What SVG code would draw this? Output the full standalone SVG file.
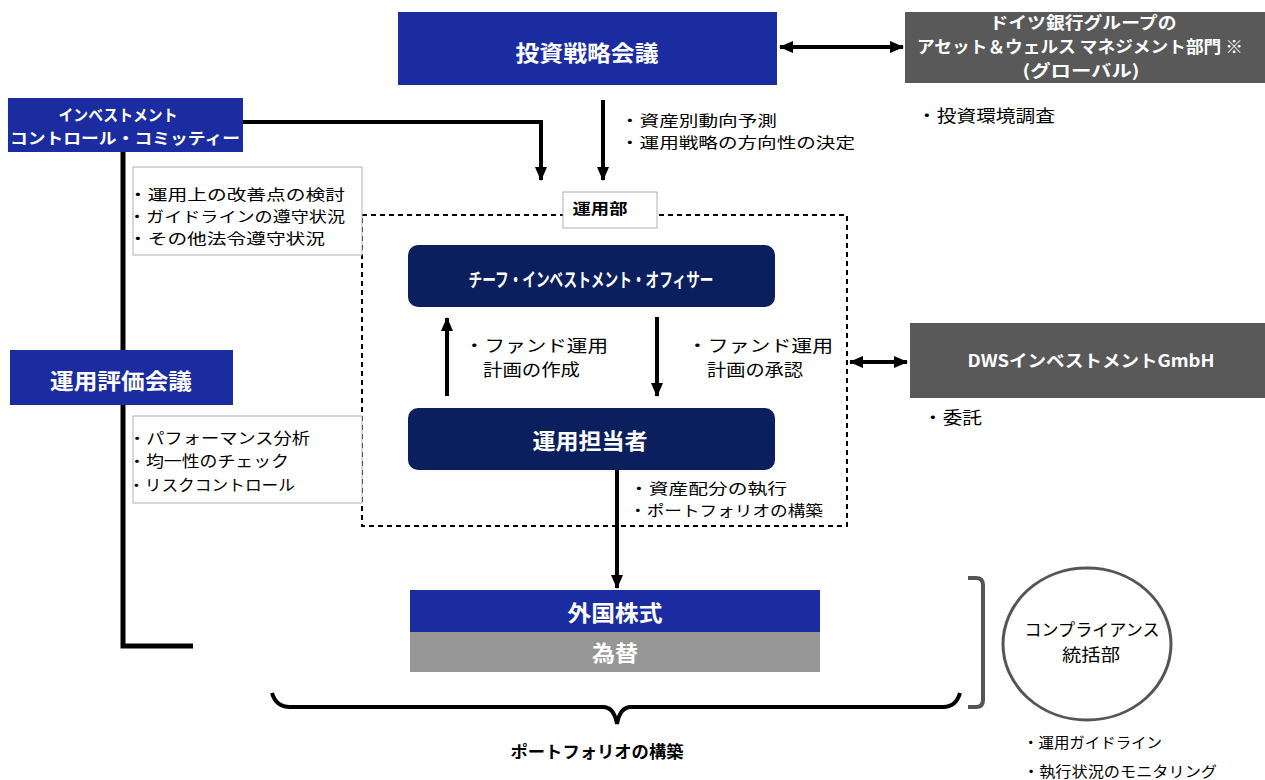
<svg xmlns="http://www.w3.org/2000/svg" width="1265" height="780" viewBox="0 0 1265 780">
<style>
text{font-family:"Noto Sans CJK JP","Noto Sans",sans-serif;}
.w{fill:#fff;font-weight:bold;text-anchor:middle;}
.k{fill:#000;}
.kc{fill:#000;text-anchor:middle;}
.blue{fill:#1a2ca0;}
.navy{fill:#0b1f5e;}
.gray{fill:#595959;}
.lg{fill:#969696;}
.note{fill:#fff;stroke:#b0b0b0;stroke-width:1;}
.ln{fill:none;stroke:#000;stroke-width:4;}
.ln5{fill:none;stroke:#000;stroke-width:5;}
</style>
<defs>
<marker id="ah" viewBox="0 0 14 14" markerWidth="14" markerHeight="14" refX="13" refY="7" orient="auto-start-reverse" markerUnits="userSpaceOnUse">
<path d="M0,1 L14,7 L0,13 z" fill="#000"/>
</marker>
</defs>

<g id="connectors">
<path class="ln" d="M243,122 H541 V180" marker-end="url(#ah)"/>
<path class="ln5" d="M123,152 V646 H193"/>
<path class="ln" d="M603,100 V180" marker-end="url(#ah)"/>
<path class="ln" d="M780,47 H903" marker-start="url(#ah)" marker-end="url(#ah)"/>
<path class="ln" d="M850,362 H907" marker-start="url(#ah)" marker-end="url(#ah)"/>
<path class="ln" d="M447,396 V318" marker-end="url(#ah)"/>
<path class="ln" d="M657,317 V396" marker-end="url(#ah)"/>
<path class="ln" d="M617,470 V588" marker-end="url(#ah)"/>
<path class="ln" d="M272,693 Q276,707 290,707 H603 Q614,707 617,724 Q620,707 631,707 H943 Q956,707 960,693"/>
<path fill="none" stroke="#555" stroke-width="4" d="M968,578 H976 Q983,578 983,585 V700 Q983,707 976,707 H968"/>
</g>

<g id="container-unyoubu">
<rect x="362" y="215" width="485" height="311" fill="none" stroke="#000" stroke-width="2" stroke-dasharray="5,4"/>
<rect x="563" y="192" width="94" height="36" fill="#fff" stroke="#b0b0b0" stroke-width="1"/>
<text x="600" y="214" font-size="15" font-weight="bold" text-anchor="middle" textLength="55" lengthAdjust="spacingAndGlyphs">運用部</text>
</g>

<g id="node-toushi">
<rect class="blue" x="398" y="12" width="379" height="73"/>
<text class="w" x="587" y="61" font-size="22" textLength="143" lengthAdjust="spacingAndGlyphs">投資戦略会議</text>
</g>

<g id="node-deutsche">
<rect class="gray" x="905" y="12" width="360" height="71"/>
<text class="w" x="1083" y="29" font-size="16.5" textLength="187" lengthAdjust="spacingAndGlyphs">ドイツ銀行グループの</text>
<text class="w" x="1080" y="53" font-size="16.5" textLength="326" lengthAdjust="spacingAndGlyphs">アセット＆ウェルス マネジメント部門 ※</text>
<text class="w" x="1081" y="77" font-size="16.5" textLength="117" lengthAdjust="spacingAndGlyphs">(グローバル)</text>
</g>
<g id="label-deutsche">
<text class="k" x="917" y="122" font-size="17" textLength="138" lengthAdjust="spacingAndGlyphs">・投資環境調査</text>
</g>

<g id="label-toushi">
<text class="k" x="620" y="126" font-size="15" textLength="157" lengthAdjust="spacingAndGlyphs">・資産別動向予測</text>
<text class="k" x="620" y="148" font-size="15" textLength="235" lengthAdjust="spacingAndGlyphs">・運用戦略の方向性の決定</text>
</g>

<g id="node-committee">
<rect class="blue" x="8" y="98" width="235" height="54"/>
<text class="w" x="118" y="121" font-size="15.8" textLength="119" lengthAdjust="spacingAndGlyphs">インベストメント</text>
<text class="w" x="125" y="144" font-size="15.8" textLength="230" lengthAdjust="spacingAndGlyphs">コントロール・コミッティー</text>
</g>

<g id="note-committee">
<rect class="note" x="133" y="167" width="229" height="88"/>
<text class="k" x="128" y="200" font-size="15" textLength="217" lengthAdjust="spacingAndGlyphs">・運用上の改善点の検討</text>
<text class="k" x="128" y="222" font-size="15" textLength="217" lengthAdjust="spacingAndGlyphs">・ガイドラインの遵守状況</text>
<text class="k" x="128" y="244" font-size="15" textLength="197" lengthAdjust="spacingAndGlyphs">・その他法令遵守状況</text>
</g>

<g id="node-hyouka">
<rect class="blue" x="10" y="350" width="223" height="55"/>
<text class="w" x="121" y="389" font-size="22" textLength="142" lengthAdjust="spacingAndGlyphs">運用評価会議</text>
</g>

<g id="note-hyouka">
<rect class="note" x="133" y="416" width="229" height="87"/>
<text class="k" x="128" y="444" font-size="15.5" textLength="182" lengthAdjust="spacingAndGlyphs">・パフォーマンス分析</text>
<text class="k" x="128" y="467" font-size="15.5" textLength="161" lengthAdjust="spacingAndGlyphs">・均一性のチェック</text>
<text class="k" x="128" y="491" font-size="15.5" textLength="167" lengthAdjust="spacingAndGlyphs">・リスクコントロール</text>
</g>

<g id="node-cio">
<rect class="navy" x="408" y="245" width="367" height="62" rx="10"/>
<text class="w" x="591" y="287" font-size="19" textLength="245" lengthAdjust="spacingAndGlyphs">チーフ・インベストメント・オフィサー</text>
</g>

<g id="label-sakusei">
<text class="k" x="464" y="352" font-size="16.5" textLength="144" lengthAdjust="spacingAndGlyphs">・ファンド運用</text>
<text class="k" x="483" y="376" font-size="16.5" textLength="97" lengthAdjust="spacingAndGlyphs">計画の作成</text>
</g>
<g id="label-shounin">
<text class="k" x="687" y="352" font-size="16.5" textLength="146" lengthAdjust="spacingAndGlyphs">・ファンド運用</text>
<text class="k" x="707" y="376" font-size="16.5" textLength="96" lengthAdjust="spacingAndGlyphs">計画の承認</text>
</g>

<g id="node-tantousha">
<rect class="navy" x="408" y="408" width="367" height="62" rx="10"/>
<text class="w" x="590" y="449" font-size="22" textLength="115" lengthAdjust="spacingAndGlyphs">運用担当者</text>
</g>

<g id="label-tantousha">
<text class="k" x="629" y="494" font-size="15" textLength="158" lengthAdjust="spacingAndGlyphs">・資産配分の執行</text>
<text class="k" x="629" y="516" font-size="15" textLength="194" lengthAdjust="spacingAndGlyphs">・ポートフォリオの構築</text>
</g>

<g id="node-dws">
<rect class="gray" x="910" y="323" width="355" height="75"/>
<text class="w" x="1091" y="367" font-size="17" textLength="247" lengthAdjust="spacingAndGlyphs">DWSインベストメントGmbH</text>
</g>
<g id="label-dws">
<text class="k" x="923" y="424" font-size="17" textLength="59" lengthAdjust="spacingAndGlyphs">・委託</text>
</g>

<g id="node-gaikoku">
<rect class="blue" x="410" y="590" width="410" height="42"/>
<text class="w" x="615" y="621" font-size="22" textLength="95" lengthAdjust="spacingAndGlyphs">外国株式</text>
</g>
<g id="node-kawase">
<rect class="lg" x="410" y="632" width="410" height="40"/>
<text class="w" x="615" y="661" font-size="22" textLength="46" lengthAdjust="spacingAndGlyphs">為替</text>
</g>

<g id="label-portfolio">
<text x="597" y="758" font-size="17" font-weight="bold" text-anchor="middle" textLength="173" lengthAdjust="spacingAndGlyphs">ポートフォリオの構築</text>
</g>

<g id="node-compliance">
<ellipse cx="1087" cy="644" rx="84" ry="76" fill="#fff" stroke="#555" stroke-width="3"/>
<text class="kc" x="1092" y="636" font-size="16.8" textLength="135" lengthAdjust="spacingAndGlyphs">コンプライアンス</text>
<text class="kc" x="1091" y="661" font-size="16.8" textLength="58" lengthAdjust="spacingAndGlyphs">統括部</text>
</g>
<g id="label-compliance">
<text class="k" x="1023" y="748" font-size="15" textLength="139" lengthAdjust="spacingAndGlyphs">・運用ガイドライン</text>
<text class="k" x="1023" y="777" font-size="15" textLength="194" lengthAdjust="spacingAndGlyphs">・執行状況のモニタリング</text>
</g>
</svg>
